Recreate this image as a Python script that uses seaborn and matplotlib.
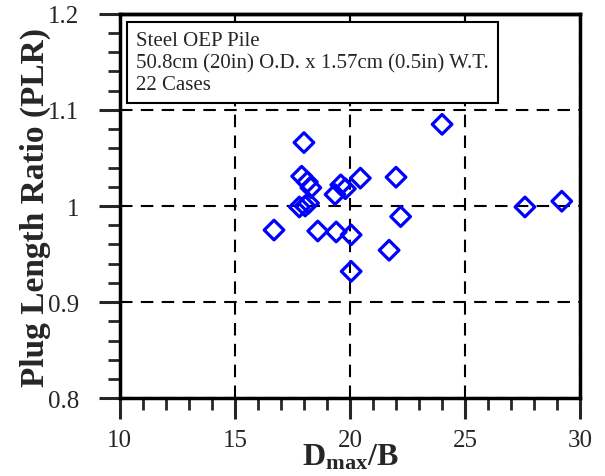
import matplotlib
matplotlib.use("Agg")
import matplotlib.pyplot as plt
import seaborn as sns
from matplotlib.ticker import MultipleLocator

dmax_b = [16.7, 17.8, 17.9, 18.0, 18.05, 18.15, 18.3, 18.2, 18.6, 19.4, 19.35,
          19.6, 19.8, 20.05, 20.05, 20.45, 21.7, 22.0, 22.2, 24.0, 27.6, 29.2]
plr = [0.975, 0.999, 1.031, 1.066, 1.000, 1.025, 1.019, 1.003, 0.974, 0.973, 1.012,
       1.022, 1.018, 0.970, 0.932, 1.029, 0.954, 1.030, 0.989, 1.085, 0.999, 1.005]

x_ticks = [10, 15, 20, 25, 30]
y_ticks = [0.8, 0.9, 1.0, 1.1, 1.2]
y_tick_labels = ['0.8', '0.9', '1', '1.1', '1.2']

box_lines = ["Steel OEP Pile",
             "50.8cm (20in) O.D. x 1.57cm (0.5in) W.T.",
             "22 Cases"]

sns.set_style("white")
plt.rcParams['font.family'] = ['Liberation Serif', 'DejaVu Serif']
plt.rcParams['mathtext.fontset'] = 'custom'
plt.rcParams['mathtext.rm'] = 'Liberation Serif'
plt.rcParams['mathtext.bf'] = 'Liberation Serif:bold'

fig = plt.figure(figsize=(6.05, 4.77), dpi=100)
ax = fig.add_axes([0.198, 0.163, 0.761, 0.806])

sns.scatterplot(x=dmax_b, y=plr, marker='D', s=100, facecolor='none',
                edgecolor='#0000ff', linewidth=2.3, ax=ax, zorder=3)

ax.set_xlim(10, 30)
ax.set_ylim(0.8, 1.2)
ax.set_xticks(x_ticks)
ax.set_xticklabels([str(t) for t in x_ticks])
ax.set_yticks(y_ticks)
ax.set_yticklabels(y_tick_labels)
ax.xaxis.set_minor_locator(MultipleLocator(1))
ax.yaxis.set_minor_locator(MultipleLocator(0.02))

ax.grid(True, which='major', color='black', linestyle=(0, (6, 4)), linewidth=1.5)
ax.set_axisbelow(True)
for sp in ax.spines.values():
    sp.set_linewidth(2.5)
    sp.set_color('black')

ax.tick_params(which='major', direction='out', length=15, width=2.2,
               labelsize=18, bottom=True, left=True, top=False, right=False)
ax.tick_params(which='minor', direction='out', length=8.5, width=2,
               bottom=True, left=True, top=False, right=False)
ax.tick_params(axis='x', which='major', pad=7)
ax.tick_params(axis='y', which='major', pad=14)

top = ax.secondary_xaxis('top')
top.set_xticks(x_ticks)
top.tick_params(direction='in', length=6, width=1.5, labeltop=False)
top.spines['top'].set_linewidth(2.5)

ax.set_xlabel(r'$\mathbf{D_{max}/B}$', fontsize=23, labelpad=-6)
ax.set_ylabel('Plug Length Ratio (PLR)', fontsize=24, fontweight='bold', labelpad=-2)

ax.text(0.035, 0.955, "\n".join(box_lines), transform=ax.transAxes, fontsize=15,
        va='top', ha='left', linespacing=1.2,
        bbox=dict(boxstyle='square,pad=0.45', facecolor='white', edgecolor='black', linewidth=1.5),
        zorder=5)

fig.savefig("out.png", dpi=100)
